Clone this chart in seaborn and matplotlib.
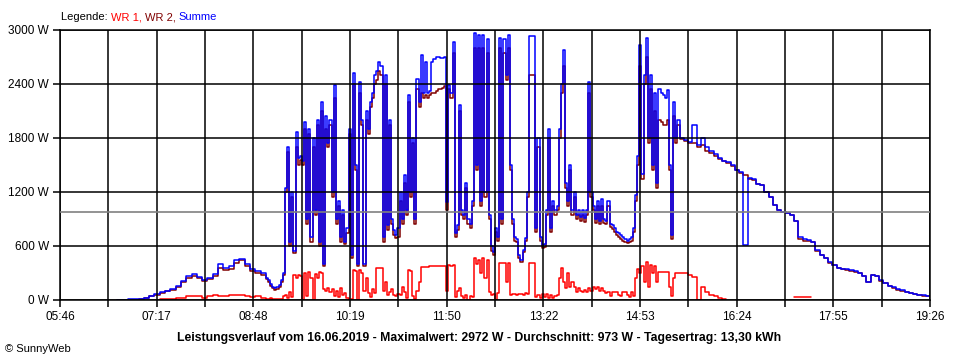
import matplotlib
matplotlib.use("Agg")
import matplotlib.pyplot as plt
import numpy as np
import pandas as pd
import seaborn as sns

# ---------------- data ----------------
day = "16.06.2019"
max_w = 2972
avg_w = 973
yield_kwh = "13,30"

# time labels for axis (minutes since midnight at start / end)
t_start = 5 * 60 + 46
t_end = 19 * 60 + 26
xtick_labels = ["05:46", "07:17", "08:48", "10:19", "11:50", "13:22", "14:53", "16:24", "17:55", "19:26"]
ytick_values = [0, 600, 1200, 1800, 2400, 3000]

# segment A: 06:40 - 08:55, every 5 min
segA_start, segA_step = 6 * 60 + 40, 5
summe_A = [5, 5, 10, 10, 15, 25, 50, 70, 90, 105, 120, 160, 210, 270, 290, 255, 225, 250,
           290, 400, 360, 380, 440, 460, 400, 340, 320, 300]
wr2_A = [0, 0, 5, 5, 10, 20, 45, 60, 80, 95, 110, 150, 195, 250, 270, 240, 215, 235,
         270, 360, 330, 350, 410, 440, 380, 320, 300, 280]
wr1_A = [np.nan] * 8 + [10, 10, 15, 25, 25, 40, 40, 40, 20, 45, 55, 45, 50, 55, 55, 55, 40, 30, 40, 25]

# segment B: 09:00 - 15:28, every 2 min
segB_start, segB_step = 9 * 60, 2
summe_B = [250, 220, 180, 150, 135, 140, 170, 220, 300, 1240,
           1700, 650, 1200, 550, 1870, 1580, 1600, 1550, 1980, 900,
           1900, 700, 1800, 1000, 2000, 650, 2200, 400, 2050, 1750,
           2000, 1200, 2390, 900, 1100, 700, 1000, 650, 800, 1900,
           500, 2520, 1500, 400, 2420, 2000, 400, 2100, 1900, 2200,
           2300, 2500, 2550, 2650, 2600, 700, 2500, 830, 2000, 900,
           780, 720, 800, 1200, 900, 1390, 1000, 2280, 1200, 1800,
           900, 2460, 2200, 2720, 2300, 2650, 2300, 2320, 2650, 2680,
           2700, 2700, 2690, 2690, 2700, 1090, 2390, 2300, 2870, 750,
           830, 2170, 1000, 950, 1300, 900, 850, 1100, 2970, 1500,
           2950, 1100, 2950, 1200, 2900, 950, 600, 530, 800, 700,
           2910, 900, 2900, 2500, 2950, 1500, 900, 700, 680, 500,
           440, 560, 690, 1200, 2930, 2930, 2930, 800, 1800, 700,
           610, 620, 1000, 1900, 800, 1100, 1000, 1050, 1900, 2400,
           2780, 1300, 1100, 1500, 1000, 1200, 950, 1000, 920, 1000,
           910, 1000, 2420, 1200, 1050, 900, 1100, 880, 1120, 900,
           880, 1100, 850, 830, 800, 760, 740, 720, 700, 680,
           660, 680, 700, 800, 1170, 1600, 2830, 1400, 2500, 2910,
           1800, 2500, 1500, 2300, 1300, 2350, 2300, 2280, 2250, 2330,
           1500, 720, 2200, 1800, 2000]
wr2_B = [230, 200, 160, 130, 115, 120, 150, 200, 280, 1200,
         1650, 600, 1150, 520, 1700, 1500, 1560, 1500, 1900, 850,
         1850, 650, 1700, 950, 1950, 600, 2100, 380, 1900, 1700,
         1950, 1150, 2250, 850, 1050, 650, 950, 620, 750, 1850,
         470, 2400, 1450, 380, 2300, 1950, 380, 2000, 1850, 2150,
         2250, 2400, 2450, 2550, 2500, 650, 2400, 780, 1950, 850,
         720, 690, 700, 1100, 850, 1300, 950, 2200, 1150, 1750,
         850, 2350, 2150, 2300, 2250, 2280, 2250, 2280, 2300, 2300,
         2320, 2340, 2350, 2360, 2380, 1000, 2350, 2250, 2750, 700,
         780, 2100, 950, 900, 1250, 850, 800, 1050, 2800, 1450,
         2800, 1050, 2800, 1150, 2750, 900, 550, 500, 760, 660,
         2800, 850, 2750, 2450, 2800, 1450, 850, 660, 640, 470,
         420, 530, 660, 1150, 2500, 2500, 2500, 760, 1700, 660,
         580, 590, 950, 1800, 760, 1050, 950, 1000, 1800, 2300,
         2600, 1250, 1050, 1450, 950, 1150, 900, 950, 880, 950,
         870, 950, 2300, 1150, 1000, 860, 1050, 840, 1050, 860,
         840, 1050, 810, 790, 760, 720, 700, 680, 660, 640,
         630, 640, 660, 760, 1100, 1500, 2600, 1350, 2400, 2700,
         1750, 2350, 1450, 2100, 1250, 2000, 1980, 1950, 1950, 2000,
         1450, 680, 2050, 1750, 1950]
wr1_B = [10, 10, 20, 10, 10, 10, 10, 10, 40, 60,
         20, 90, 30, 280, 250, 280, 270, 0, 300, 50,
         310, 240, 0, 290, 250, 310, 300, 120, 100, 130,
         90, 120, 50, 100, 30, 130, 60, 80, 20, 0,
         10, 330, 320, 0, 330, 300, 100, 250, 80, 30,
         120, 80, 360, 360, 360, 100, 200, 60, 90, 120,
         60, 50, 70, 60, 150, 90, 20, 330, 320, 50,
         10, 100, 200, 370, 370, 370, 370, 380, 380, 380,
         380, 380, 380, 380, 380, 100, 390, 380, 390, 30,
         100, 130, 50, 20, 60, 0, 40, 30, 470, 400,
         440, 300, 470, 240, 450, 90, 60, 70, 0, 80,
         410, 410, 410, 200, 410, 60, 70, 70, 60, 70,
         70, 60, 80, 70, 410, 410, 410, 30, 60, 20,
         70, 30, 70, 20, 60, 20, 40, 60, 250, 360,
         200, 130, 300, 150, 200, 140, 90, 130, 100, 90,
         110, 90, 130, 100, 150, 120, 150, 100, 130, 100,
         80, 90, 50, 90, 90, 90, 60, 40, 90, 90,
         60, 30, 90, 50, 250, 350, 300, 380, 200, 420,
         150, 390, 300, 380, 200, 310, 310, 310, 310, 310,
         150, 50, 250, 300, 300]

# segment C: 15:30 - 19:26, every 4 min
segC_start, segC_step = 15 * 60 + 30, 4
summe_C = [1800, 1780, 1760, 1950, 1720, 1800, 1700, 1660, 1620, 1580,
           1550, 1530, 1500, 1450, 1420, 610, 1360, 1340, 1290, 1280,
           1200, 1150, 1060, 1000, 980, 970, 950, 880, 700, 680,
           670, 650, 560, 500, 470, 420, 390, 360, 350, 340,
           330, 320, 300, 270, 200, 280, 270, 220, 190, 160,
           140, 120, 110, 90, 80, 70, 60, 55, 50, 45]
wr2_C = [1790, 1770, 1740, 1750, 1700, 1720, 1660, 1630, 1600, 1570,
         1540, 1520, 1490, 1440, 1410, 1390, 1350, 1330, 1285, 1275,
         1195, 1145, 1055, 995, 975, 965, 945, 875, 680, 660,
         660, 640, 550, 495, 465, 415, 385, 355, 345, 335,
         325, 315, 295, 265, 195, 275, 265, 215, 185, 155,
         135, 115, 105, 85, 75, 65, 55, 50, 45, 40]
wr1_C = [300, 300, 280, 260, 0, 140, 90, 60, 40, 20, 15, 10] + [np.nan] * 15 + \
        [30, 30, 35, 30, 30] + [np.nan] * 28

# ---------------- build frames ----------------
def seg_times(start, step, n):
    return start + step * np.arange(n)

times = np.concatenate([seg_times(segA_start, segA_step, len(summe_A)),
                        seg_times(segB_start, segB_step, len(summe_B)),
                        seg_times(segC_start, segC_step, len(summe_C))])
summe = np.array(summe_A + summe_B + summe_C, dtype=float)
wr2 = np.array(wr2_A + wr2_B + wr2_C, dtype=float)
wr1 = np.array(list(wr1_A) + list(wr1_B) + list(wr1_C), dtype=float)

def frame(vals):
    df = pd.DataFrame({"t": times, "w": vals})
    df["block"] = df["w"].isna().cumsum()
    return df.dropna()

# ---------------- style ----------------
sns.set_style("white")
plt.rcParams["font.family"] = ["Liberation Sans", "DejaVu Sans"]

fig = plt.figure(figsize=(9.6, 3.6), dpi=100)
ax = fig.add_axes([60 / 960, 60 / 360, 870 / 960, 270 / 360])

red, darkred, blue = "#ff0000", "#800000", "#0000ff"
lw = 1.1
for vals, col in [(wr1, red), (wr2, darkred), (summe, blue)]:
    sns.lineplot(data=frame(vals), x="t", y="w", units="block", estimator=None,
                 color=col, lw=lw, drawstyle="steps-post", ax=ax, zorder=2,
                 legend=False)

ax.axhline(avg_w, color="#808080", lw=1.2, zorder=2.6)

ax.set_xlim(t_start, t_end)
ax.set_ylim(0, 3000)
major = np.linspace(t_start, t_end, len(xtick_labels))
minor = (major[:-1] + major[1:]) / 2
ax.set_xticks(major)
ax.set_xticklabels(xtick_labels)
ax.set_xticks(minor, minor=True)
ax.set_yticks(ytick_values)
ax.set_yticklabels([f"{v} W" for v in ytick_values])
ax.set_xlabel("")
ax.set_ylabel("")

ax.set_axisbelow(False)
ax.grid(axis="x", which="both", color="black", lw=1.1, zorder=2.5)
ax.grid(axis="y", which="major", color="black", lw=1.1, zorder=2.5)
ax.tick_params(axis="both", which="both", direction="out", length=5, width=1.1,
               color="black", labelsize=8.5, labelcolor="black", pad=3)
ax.tick_params(axis="x", which="both", bottom=True)
ax.tick_params(axis="y", which="both", left=True)
for s in ax.spines.values():
    s.set_color("black")
    s.set_linewidth(1.1)
    s.set_visible(True)

# legend line at top
t0 = fig.text(61 / 960, 1 - 17 / 360, "Legende: ", fontsize=8, color="black", va="center")
prev = t0
for txt, col in [("WR 1, ", red), ("WR 2, ", darkred), ("Summe", blue)]:
    prev = ax.annotate(txt, xy=(1, 0), xycoords=prev, va="bottom", ha="left",
                       fontsize=8, color=col)

fig.text(0.499, 22 / 360,
         f"Leistungsverlauf vom {day} - Maximalwert: {max_w} W - Durchschnitt: {avg_w} W - "
         f"Tagesertrag: {yield_kwh} kWh",
         ha="center", va="center", fontsize=8.8, fontweight="bold", color="black")
fig.text(5 / 960, 11 / 360, "© SunnyWeb", ha="left", va="center", fontsize=8, color="black")

fig.savefig("out.png", dpi=100, facecolor="white")
